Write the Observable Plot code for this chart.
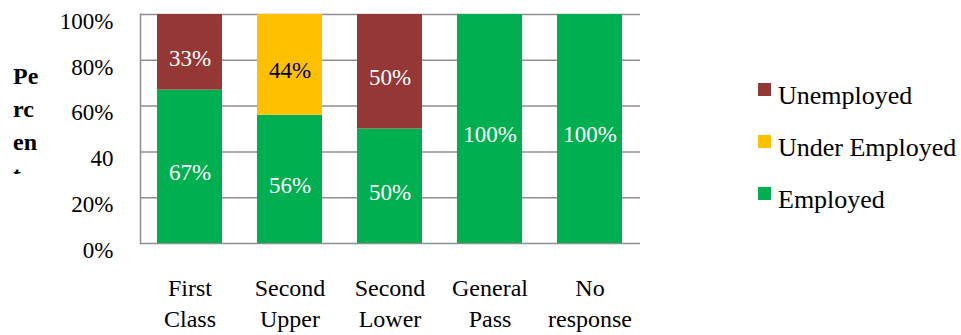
<!DOCTYPE html>
<html>
<head>
<meta charset="utf-8">
<script src="https://cdn.jsdelivr.net/npm/d3@7"></script>
<script src="https://cdn.jsdelivr.net/npm/@observablehq/plot@0.6"></script>
<style>
  html, body { margin: 0; padding: 0; background: #fff; color: #000; }
  #wrap { position: relative; width: 961px; height: 335px; overflow: hidden; font-family: "Liberation Serif", "Tinos", "DejaVu Serif", serif; }
  #wrap svg, #wrap svg text { font-family: "Liberation Serif", "Tinos", "DejaVu Serif", serif !important; }
  #ytitle { position: absolute; left: 13px; top: 60px; width: 27px; height: 114px; overflow: hidden;
            font-weight: bold; font-size: 24px; line-height: 33px; word-break: break-all; }
  #legend { position: absolute; left: 758px; top: 83px; font-size: 26px; }
  .item { position: relative; height: 52px; }
  .sw { position: absolute; left: 0; top: 0; width: 13px; height: 13px; }
  .lb { position: absolute; left: 20px; top: 0px; line-height: 26px; white-space: nowrap; }
</style>
</head>
<body>
<div id="wrap">
  <div id="chart"></div>
  <div id="ytitle">Percent</div>
  <div id="legend"></div>
</div>
<script>
const categories = ["First Class", "Second Upper", "Second Lower", "General Pass", "No response"];
const categoryLabels = ["First\nClass", "Second\nUpper", "Second\nLower", "General\nPass", "No\nresponse"];
const series = ["Employed", "Under Employed", "Unemployed"];
const legendOrder = ["Unemployed", "Under Employed", "Employed"];
const colors = ["#00B050", "#FFC000", "#953735"];
const employed = [67, 56, 50, 100, 100];
const underEmployed = [0, 44, 0, 0, 0];
const unemployed = [33, 0, 50, 0, 0];
const yTicks = [0, 20, 40, 60, 80, 100];
const yTickLabels = ["0%", "20%", "40", "60%", "80%", "100%"];

const valuesBySeries = [employed, underEmployed, unemployed];
const data = [];
series.forEach((s, si) => {
  categories.forEach((c, ci) => {
    data.push({category: c, status: s, value: valuesBySeries[si][ci]});
  });
});
const labelData = data.filter(d => d.value > 0);

const chart = Plot.plot({
  width: 961,
  height: 335,
  marginLeft: 140,
  marginRight: 321,
  marginTop: 14,
  marginBottom: 92,
  style: {fontFamily: "'Liberation Serif', 'Tinos', 'DejaVu Serif', serif", fontSize: "23px", color: "#000", background: "#fff", overflow: "visible"},
  x: {domain: categories, paddingInner: 0.35, paddingOuter: 0.175, label: null},
  y: {domain: [0, 100], label: null},
  color: {domain: series, range: colors},
  marks: [
    Plot.gridY(yTicks, {stroke: "#8f8f8f", strokeOpacity: 1, strokeWidth: 1.5}),
    Plot.frame({anchor: "left", stroke: "#8f8f8f", strokeWidth: 1.5}),
    Plot.barY(data, {x: "category", y: "value", fill: "status", order: series}),
    Plot.text(labelData, Plot.stackY({
      x: "category", y: "value", order: series, z: "status",
      text: d => d.value + "%",
      fill: {value: d => d.status === "Under Employed" ? "#000" : "#fff", scale: null},
      fontSize: 23, dy: 6
    })),
    Plot.axisY(yTicks, {tickSize: 0, tickPadding: 27, dy: 7, label: null, fontSize: 23,
      tickFormat: (d) => yTickLabels[yTicks.indexOf(d)]}),
    Plot.axisX({tickSize: 0, tickPadding: 30, label: null, lineHeight: 1.3, fontSize: 24,
      tickFormat: d => categoryLabels[categories.indexOf(d)]})
  ]
});
document.getElementById("chart").appendChild(chart);

const legend = document.getElementById("legend");
legendOrder.forEach(s => {
  const item = document.createElement("div");
  item.className = "item";
  const sw = document.createElement("div");
  sw.className = "sw";
  sw.style.background = colors[series.indexOf(s)];
  const lb = document.createElement("div");
  lb.className = "lb";
  lb.textContent = s;
  item.appendChild(sw);
  item.appendChild(lb);
  legend.appendChild(item);
});
</script>
</body>
</html>
